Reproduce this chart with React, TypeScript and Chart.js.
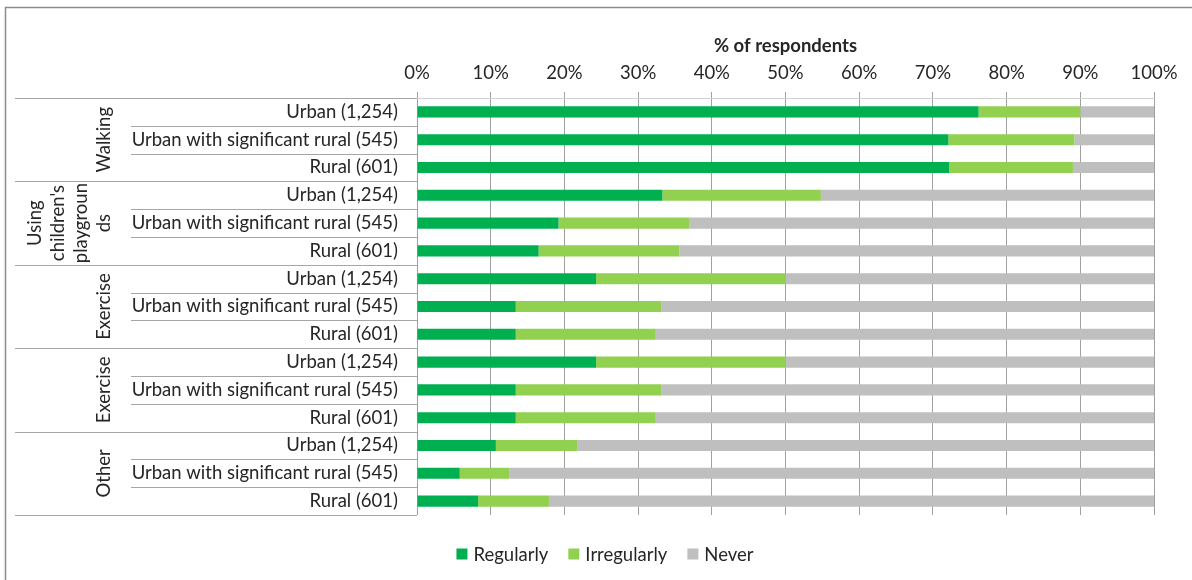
import React, { useEffect, useRef } from 'react';
import { Chart, registerables } from 'chart.js';

Chart.register(...registerables);

// Row labels (bottom-level categories), repeated for each activity group
const categories = [
  'Urban (1,254)', 'Urban with significant rural (545)', 'Rural (601)',
  'Urban (1,254)', 'Urban with significant rural (545)', 'Rural (601)',
  'Urban (1,254)', 'Urban with significant rural (545)', 'Rural (601)',
  'Urban (1,254)', 'Urban with significant rural (545)', 'Rural (601)',
  'Urban (1,254)', 'Urban with significant rural (545)', 'Rural (601)',
];

// Activity groups (outer category level), wrapped as shown on the axis
const groupLabels = [
  ['Walking'],
  ['Using', "children's", 'playgroun', 'ds'],
  ['Exercise'],
  ['Exercise'],
  ['Other'],
];
const rowsPerGroup = 3;

// Percentage of respondents per row
const regularly = [76.2, 72.1, 72.2, 33.3, 19.2, 16.5, 24.3, 13.4, 13.4, 24.3, 13.4, 13.4, 10.7, 5.8, 8.3];
const irregularly = [13.8, 17.1, 16.8, 21.5, 17.8, 19.1, 25.7, 19.8, 19.0, 25.7, 19.8, 19.0, 11.1, 6.7, 9.6];
const never = [10.0, 10.8, 11.0, 45.2, 63.0, 64.4, 50.0, 66.8, 67.6, 50.0, 66.8, 67.6, 78.2, 87.5, 82.1];

const seriesNames = ['Regularly', 'Irregularly', 'Never'];
const seriesColors = ['#00B050', '#92D050', '#BFBFBF'];

const axisTitle = '% of respondents';
const xMin = 0;
const xMax = 100;
const xStep = 10;

const FONT = 'Lato, "Open Sans", sans-serif';
const TEXT = '#262626';
const FONT_SIZE = 18.5;

const decorPlugin = {
  id: 'decor',
  beforeDraw(chart: any) {
    const { ctx, width, height } = chart;
    ctx.save();
    ctx.fillStyle = '#ffffff';
    ctx.fillRect(0, 0, width, height);
    // outer frame (top and left edges fall inside the canvas)
    ctx.strokeStyle = '#8c8c8c';
    ctx.lineWidth = 1.5;
    ctx.beginPath();
    ctx.moveTo(5.5, height + 4);
    ctx.lineTo(5.5, 7.5);
    ctx.lineTo(width + 4, 7.5);
    ctx.stroke();
    ctx.restore();
  },
  afterDraw(chart: any) {
    const { ctx, chartArea } = chart;
    const y = chart.scales.y;
    const n = categories.length;
    const step = y.getPixelForValue(1) - y.getPixelForValue(0);
    const edge = (i: number) => y.getPixelForValue(i) - step / 2;

    ctx.save();
    // separators in the category label area
    ctx.strokeStyle = '#a6a6a6';
    ctx.lineWidth = 1;
    for (let i = 0; i <= n; i++) {
      const py = Math.round(edge(i)) + 0.5;
      const x0 = i % rowsPerGroup === 0 ? 15 : 131;
      ctx.beginPath();
      ctx.moveTo(x0, py);
      ctx.lineTo(chartArea.left, py);
      ctx.stroke();
    }

    // rotated group labels
    ctx.fillStyle = TEXT;
    ctx.font = `${FONT_SIZE}px ${FONT}`;
    ctx.textAlign = 'center';
    ctx.textBaseline = 'middle';
    groupLabels.forEach((lines, g) => {
      const yc = (edge(g * rowsPerGroup) + edge((g + 1) * rowsPerGroup)) / 2;
      lines.forEach((t, k) => {
        const x = 104 - (lines.length - 1 - k) * 23;
        ctx.save();
        ctx.translate(x, yc);
        ctx.rotate(-Math.PI / 2);
        ctx.fillText(t, 0, 0);
        ctx.restore();
      });
    });

    // legend
    const datasets = chart.data.datasets;
    const box = 11;
    const boxGap = 6;
    const itemGap = 20;
    const widths = datasets.map((d: any) => box + boxGap + ctx.measureText(d.label).width);
    const total = widths.reduce((a: number, b: number) => a + b, 0) + itemGap * (datasets.length - 1);
    const cy = 554;
    let x = 605 - total / 2;
    ctx.textAlign = 'left';
    datasets.forEach((d: any, i: number) => {
      ctx.fillStyle = d.backgroundColor;
      ctx.fillRect(x, cy - box / 2, box, box);
      ctx.fillStyle = TEXT;
      ctx.fillText(d.label, x + box + boxGap, cy + 1);
      x += widths[i] + itemGap;
    });
    ctx.restore();
  },
};

export default function App() {
  const canvasRef = useRef<HTMLCanvasElement | null>(null);

  useEffect(() => {
    const canvas = canvasRef.current;
    if (!canvas) return;
    const values = [regularly, irregularly, never];
    const chart = new Chart(canvas, {
      type: 'bar',
      data: {
        labels: categories,
        datasets: seriesNames.map((name, i) => ({
          label: name,
          data: values[i],
          backgroundColor: seriesColors[i],
          borderWidth: 0,
          barPercentage: 0.4,
          categoryPercentage: 1,
        })),
      },
      options: {
        indexAxis: 'y',
        responsive: false,
        animation: false,
        devicePixelRatio: 1,
        layout: { padding: { top: 35, right: 38, bottom: 65, left: 0 } },
        plugins: {
          legend: { display: false },
          tooltip: { enabled: false },
        },
        scales: {
          x: {
            position: 'top',
            stacked: true,
            min: xMin,
            max: xMax,
            ticks: {
              stepSize: xStep,
              callback: (v: any) => `${v}%`,
              font: { family: FONT, size: FONT_SIZE },
              color: TEXT,
              padding: 8,
              maxRotation: 0,
            },
            grid: { color: '#a0a0a0', tickLength: 6, drawTicks: true },
            border: { display: true, color: '#d0d0d0' },
            title: {
              display: true,
              text: axisTitle,
              font: { family: FONT, size: FONT_SIZE, weight: 'bold' },
              color: TEXT,
              padding: { top: 0, bottom: 0 },
            },
            afterFit: (s: any) => {
              s.height = 63;
            },
          },
          y: {
            stacked: true,
            grid: { display: false, drawTicks: false },
            border: { display: false },
            ticks: {
              autoSkip: false,
              font: { family: FONT, size: FONT_SIZE },
              color: TEXT,
              padding: 19,
            },
            afterFit: (s: any) => {
              s.width = 417;
            },
          },
        },
      },
      plugins: [decorPlugin],
    });
    return () => chart.destroy();
  }, []);

  return (
    <div style={{ position: 'absolute', left: 0, top: 0, width: 1192, height: 580, background: '#fff' }}>
      <canvas ref={canvasRef} width={1192} height={580} style={{ display: 'block' }} />
    </div>
  );
}
